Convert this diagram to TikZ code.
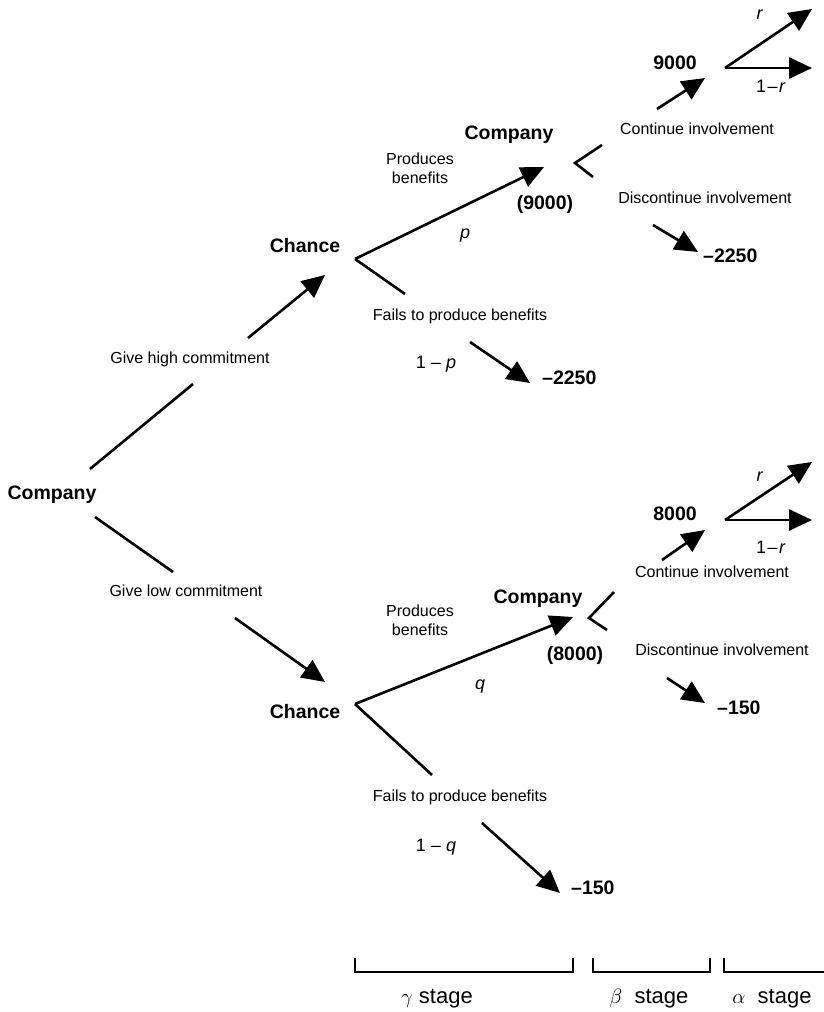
\documentclass[tikz,border=0pt]{standalone}
\usepackage{fontspec}
\setmainfont{Liberation Sans}
\usetikzlibrary{arrows.meta}
\begin{document}
\begin{tikzpicture}[x=1pt,y=-1pt,
  lbl/.style={inner sep=0pt, font=\fontsize{16}{19}\selectfont, text height=11.5pt, text depth=0pt, align=center},
  bold/.style={inner sep=0pt, font=\fontsize{19.5}{22}\selectfont\bfseries, text height=14pt, text depth=0pt},
  prob/.style={inner sep=0pt, font=\fontsize{18}{20}\selectfont, text height=12.5pt, text depth=0pt},
  branch/.style={line width=2.6pt},
  arr/.style={line width=2.6pt, -{Triangle[length=23pt,width=21pt]}},
  bracket/.style={line width=2.6pt},
  stage/.style={inner sep=0pt, font=\fontsize{22}{24}\selectfont, anchor=base}]
\useasboundingbox (0,0) rectangle (823,1012);

% ---------- root decision ----------
\node[bold] (root) at (52,492) {Company};
\node[lbl] (high) at (190,358) {Give high commitment};
\node[lbl] (low) at (186,591) {Give low commitment};

\coordinate (hiA) at (90,469);
\coordinate (hiB) at (193,384);
\coordinate (hiC) at (248,338);
\coordinate (hiT) at (325,275);
\draw[branch] (hiA) -- (hiB);
\draw[arr] (hiC) -- (hiT);

\coordinate (loA) at (95,517);
\coordinate (loB) at (173,572);
\coordinate (loC) at (235,618);
\coordinate (loT) at (325,682);
\draw[branch] (loA) -- (loB);
\draw[arr] (loC) -- (loT);

% ---------- upper chance node ----------
\node[bold] (chU) at (305,245) {Chance};
\coordinate (vU) at (355,259);
\coordinate (pU) at (544,167);
\draw[arr] (vU) -- (pU);
\node[lbl] (prodU) at (420,178) {Produces\\benefits};
\node[prob] (pLab) at (465,232) {\textit{p}};
\coordinate (fU1) at (405,294);
\coordinate (fU2) at (470,342);
\coordinate (fU3) at (530,383);
\draw[branch] (vU) -- (fU1);
\draw[arr] (fU2) -- (fU3);
\node[lbl] (failU) at (460,315) {Fails to produce benefits};
\node[prob] (qpU) at (436,362) {1 – \textit{p}};
\node[bold, anchor=west] (payU1) at (542,377) {–2250};

% ---------- upper company node ----------
\node[bold] (coU) at (509,132) {Company};
\node[bold] (valU) at (545,202) {(9000)};
\coordinate (kU1) at (602,145);
\coordinate (kU) at (575,163);
\coordinate (kU2) at (593,177);
\draw[branch] (kU1) -- (kU) -- (kU2);
\coordinate (cU1) at (657,109);
\coordinate (cU2) at (705,78);
\draw[arr] (cU1) -- (cU2);
\node[lbl] (contU) at (697,129) {Continue involvement};
\node[lbl] (discU) at (705,198) {Discontinue involvement};
\coordinate (dU1) at (653,225);
\coordinate (dU2) at (698,252);
\draw[arr] (dU1) -- (dU2);
\node[bold, anchor=west] (payU2) at (703,255) {–2250};

\node[bold] (nU) at (675,62) {9000};
\coordinate (rU) at (725,68);
\coordinate (rUa) at (812,9);
\coordinate (rUb) at (812,68);
\draw[arr] (rU) -- (rUa);
\draw[arr] (rU) -- (rUb);
\node[prob] (rLabU) at (760,13) {\textit{r}};
\node[prob] (rrLabU) at (771,86) {1\kern1.5pt–\kern1.5pt\textit{r}};

% ---------- lower chance node ----------
\node[bold] (chL) at (305,711) {Chance};
\coordinate (vL) at (355,704);
\coordinate (pL) at (573,617);
\draw[arr] (vL) -- (pL);
\node[lbl] (prodL) at (420,630) {Produces\\benefits};
\node[prob] (qLab) at (480,683) {\textit{q}};
\coordinate (fL1) at (432,775);
\coordinate (fL2) at (482,823);
\coordinate (fL3) at (560,893);
\draw[branch] (vL) -- (fL1);
\draw[arr] (fL2) -- (fL3);
\node[lbl] (failL) at (460,796) {Fails to produce benefits};
\node[prob] (qqL) at (436,845) {1 – \textit{q}};
\node[bold, anchor=west] (payL1) at (571,887) {–150};

% ---------- lower company node ----------
\node[bold] (coL) at (538,596) {Company};
\node[bold] (valL) at (575,653) {(8000)};
\coordinate (kL1) at (614,592);
\coordinate (kL) at (589,618);
\coordinate (kL2) at (607,630);
\draw[branch] (kL1) -- (kL) -- (kL2);
\coordinate (cL1) at (662,560);
\coordinate (cL2) at (705,530);
\draw[arr] (cL1) -- (cL2);
\node[lbl] (contL) at (712,572) {Continue involvement};
\node[lbl] (discL) at (722,650) {Discontinue involvement};
\coordinate (dL1) at (667,678);
\coordinate (dL2) at (705,703);
\draw[arr] (dL1) -- (dL2);
\node[bold, anchor=west] (payL2) at (717,707) {–150};

\node[bold] (nL) at (675,513) {8000};
\coordinate (rL) at (725,520);
\coordinate (rLa) at (812,462);
\coordinate (rLb) at (812,520);
\draw[arr] (rL) -- (rLa);
\draw[arr] (rL) -- (rLb);
\node[prob] (rLabL) at (760,475) {\textit{r}};
\node[prob] (rrLabL) at (771,547) {1\kern1.5pt–\kern1.5pt\textit{r}};

% ---------- stage brackets ----------
\draw[bracket] (355,958) -- (355,972) -- (573,972) -- (573,958);
\draw[bracket] (593,958) -- (593,972) -- (710,972) -- (710,958);
\draw[bracket] (724,958) -- (724,972) -- (830,972);
\node[stage] (gam) at (437,1003) {$\gamma$ stage};
\node[stage] (bet) at (649,1003) {$\beta$ \ stage};
\node[stage] (alp) at (772,1003) {$\alpha$ \ stage};
\end{tikzpicture}
\end{document}
